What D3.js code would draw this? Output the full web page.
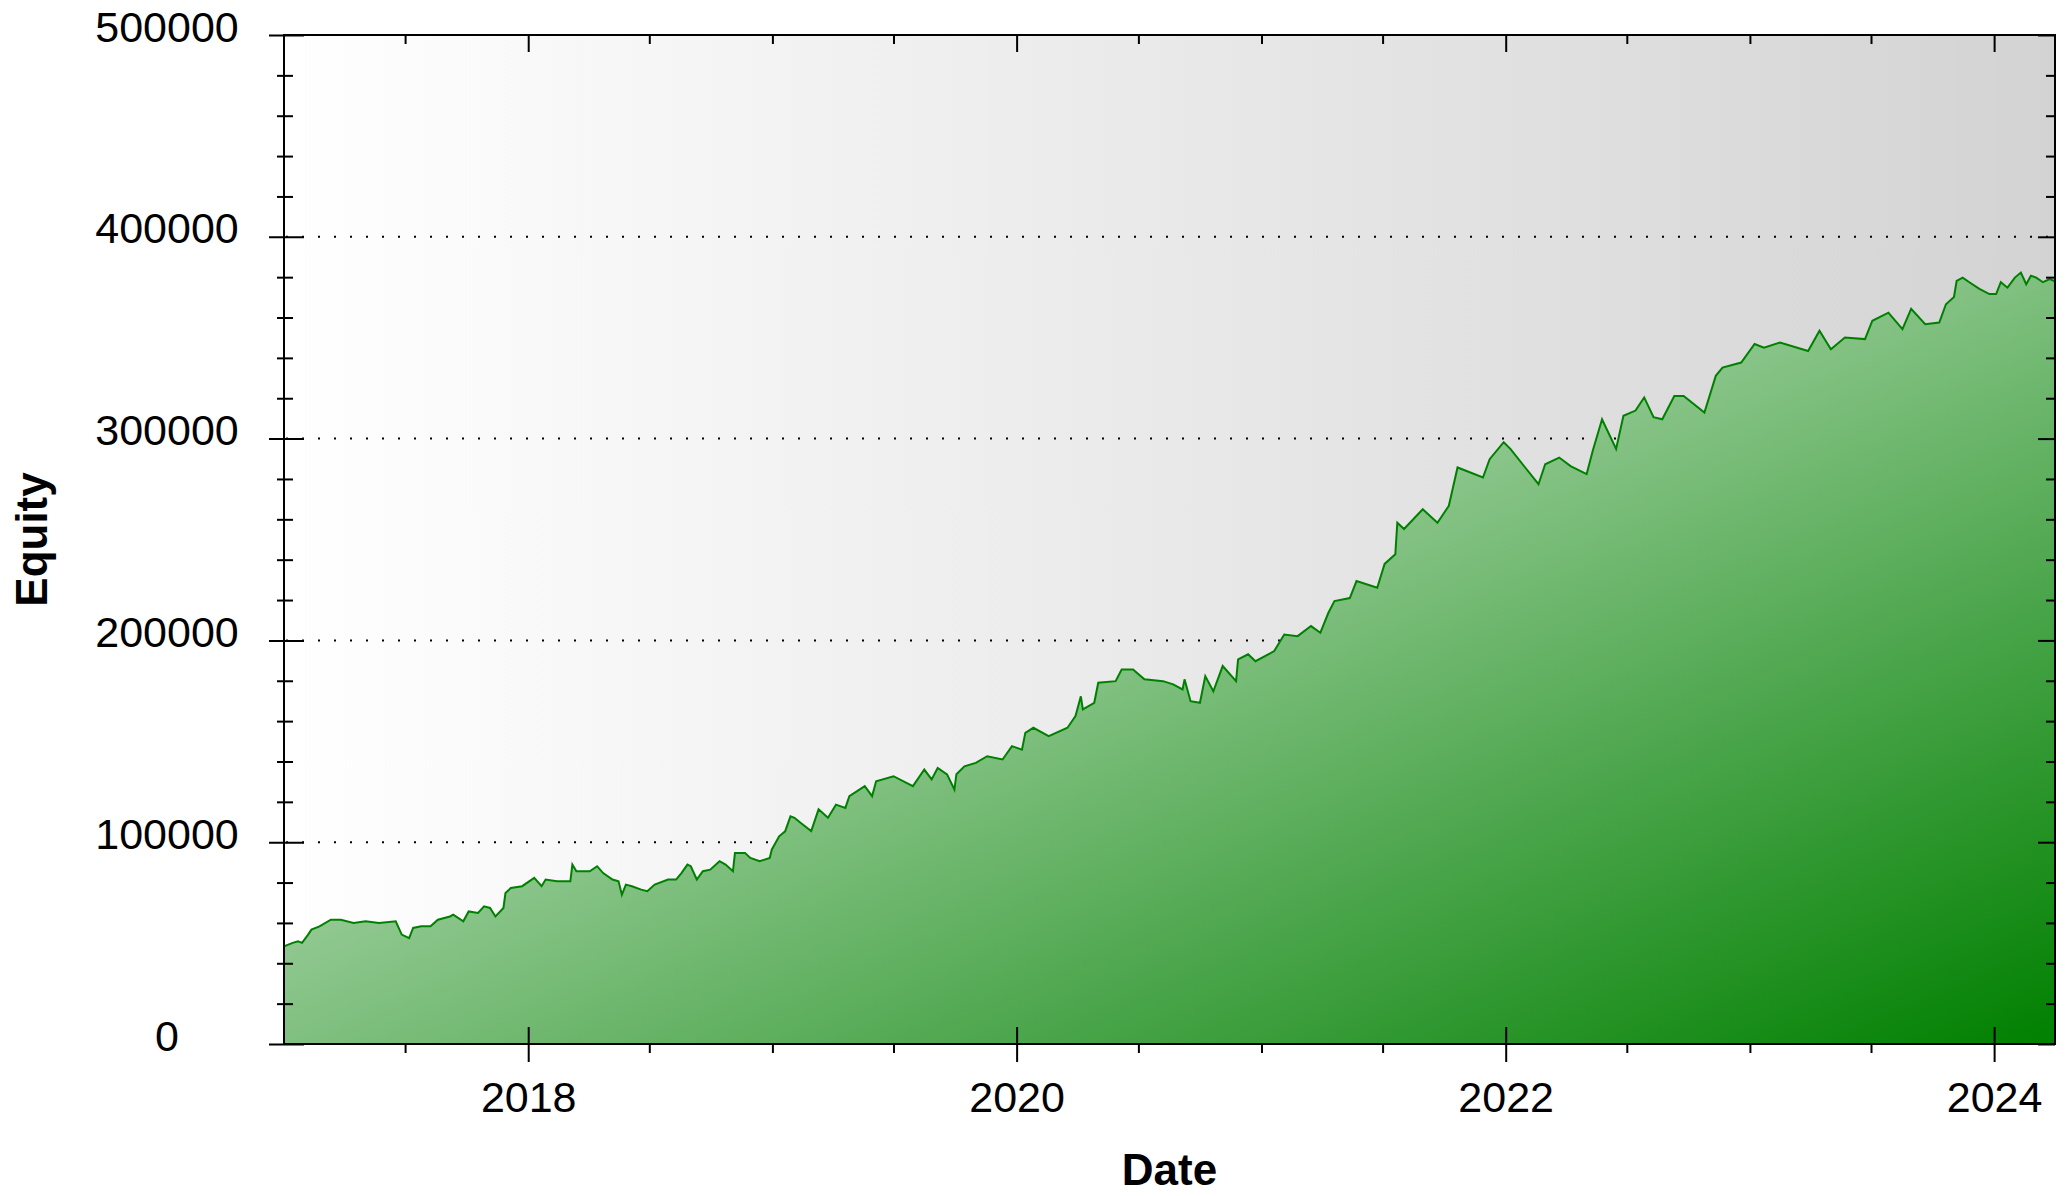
<!DOCTYPE html>
<html>
<head>
<meta charset="utf-8">
<script src="https://cdn.jsdelivr.net/npm/d3@7"></script>
<style>
    body { margin: 0; background: #fff; }
    text { font-family: "Liberation Sans", Arial, sans-serif; fill: #000; }
</style>
</head>
<body>
<div id="equity_chart"></div>
<script>
var dates = [
    "2017-01-01","2017-01-14","2017-01-22","2017-01-28","2017-02-06","2017-02-11","2017-02-23","2017-03-12","2017-03-27","2017-04-15",
    "2017-05-03","2017-05-23","2017-06-17","2017-06-26","2017-07-07","2017-07-13","2017-07-25","2017-08-08","2017-08-19","2017-09-06",
    "2017-09-11","2017-09-26","2017-10-04","2017-10-18","2017-10-27","2017-11-05","2017-11-13","2017-11-25","2017-11-28","2017-12-06",
    "2017-12-23","2018-01-10","2018-01-21","2018-01-27","2018-02-13","2018-03-05","2018-03-08","2018-03-14","2018-04-03","2018-04-14",
    "2018-04-23","2018-05-07","2018-05-16","2018-05-21","2018-05-27","2018-06-05","2018-06-19","2018-06-28","2018-07-09","2018-07-29",
    "2018-08-10","2018-08-18","2018-08-27","2018-09-01","2018-09-10","2018-09-19","2018-09-30","2018-10-14","2018-10-23","2018-11-03",
    "2018-11-06","2018-11-21","2018-11-29","2018-12-13","2018-12-28","2018-12-31","2019-01-11","2019-01-20","2019-01-28","2019-02-03",
    "2019-02-12","2019-02-28","2019-03-11","2019-03-25","2019-04-06","2019-04-20","2019-04-26","2019-05-19","2019-05-30","2019-06-05",
    "2019-07-01","2019-07-30","2019-08-16","2019-08-27","2019-09-05","2019-09-19","2019-09-30","2019-10-03","2019-10-15","2019-11-01",
    "2019-11-18","2019-12-11","2019-12-25","2020-01-09","2020-01-14","2020-01-26","2020-02-18","2020-03-17","2020-03-29","2020-04-06",
    "2020-04-09","2020-04-26","2020-05-02","2020-05-28","2020-06-06","2020-06-23","2020-07-10","2020-08-07","2020-08-22","2020-09-05",
    "2020-09-08","2020-09-17","2020-10-01","2020-10-09","2020-10-21","2020-11-04","2020-11-24","2020-11-27","2020-12-12","2020-12-23",
    "2021-01-20","2021-02-04","2021-02-24","2021-03-16","2021-03-30","2021-04-11","2021-04-20","2021-05-13","2021-05-23","2021-06-23",
    "2021-07-04","2021-07-20","2021-07-23","2021-08-02","2021-08-30","2021-09-21","2021-10-08","2021-10-21","2021-11-28","2021-12-08",
    "2021-12-29","2022-01-08","2022-02-19","2022-03-01","2022-03-22","2022-04-08","2022-05-02","2022-05-11","2022-05-25","2022-06-15",
    "2022-06-26","2022-07-14","2022-07-27","2022-08-10","2022-08-23","2022-09-10","2022-09-24","2022-10-25","2022-11-11","2022-11-21",
    "2022-12-19","2023-01-08","2023-01-22","2023-02-15","2023-03-29","2023-04-15","2023-05-02","2023-05-23","2023-06-22","2023-07-03",
    "2023-07-27","2023-08-17","2023-08-30","2023-09-20","2023-10-11","2023-10-21","2023-11-02","2023-11-06","2023-11-15","2023-11-25",
    "2023-12-10","2023-12-25","2024-01-04","2024-01-11","2024-01-21","2024-02-01","2024-02-10","2024-02-18","2024-02-25","2024-03-04",
    "2024-03-14","2024-03-24","2024-03-31"
];

var equity = [
    48400,50100,50900,50100,54200,56700,58300,61600,61600,60000,
    60800,60000,60800,54200,52500,57500,58300,58300,61600,63200,
    64100,60800,65700,64900,68200,67400,63200,67400,74800,77300,
    78200,82300,78200,81500,80600,80600,88900,85600,85600,88100,
    84700,81500,80600,74000,79000,78200,76500,75700,79000,81500,
    81500,84700,88900,88100,81500,85600,86400,90600,88900,85600,
    94700,94700,92200,90600,92200,96300,102900,105400,112800,112100,
    109600,105500,116300,112100,118600,117000,122800,127800,122800,130200,
    132700,127800,136000,131100,136800,133600,126100,133700,137600,139300,
    142600,141000,147600,145900,154200,156700,152600,156700,162500,172300,
    165800,169100,179000,179800,185600,185600,180700,179800,178200,175700,
    180700,169900,169100,182300,174800,187300,179800,190600,193100,189700,
    194700,202900,202100,207100,203800,213700,219500,221000,229400,226100,
    237900,242700,258300,255200,265000,258300,266700,285700,280700,289800,
    298200,294900,277400,287300,290600,286400,282400,293900,309600,294900,
    311300,313900,320400,310600,309600,321100,321100,312900,331100,335200,
    337700,346900,345100,347600,343400,353400,344300,350100,349300,358400,
    362400,354200,364300,356700,357500,366600,370200,378100,379800,377500,
    374200,371600,371600,377500,374800,379800,382300,376500,380700,379800,
    377500,379000,378100
];

var yTicks = [0, 100000, 200000, 300000, 400000, 500000];
var yGridTicks = [100000, 200000, 300000, 400000];
var xTickYears = ['2018', '2020', '2022', '2024'];
var xDomain = ['2017-01-01', '2024-04-01'];

var width = 2072;
var height = 1196;
var margin = {top: 35, right: 17, bottom: 152, left: 284};
var plotW = width - margin.left - margin.right;
var plotH = height - margin.top - margin.bottom;

var parseDate = d3.timeParse('%Y-%m-%d');
var series = dates.map((d, i) => ({date: parseDate(d), value: equity[i]}));

var x = d3.scaleTime()
    .domain(xDomain.map(parseDate))
    .range([0, plotW]);

var y = d3.scaleLinear()
    .domain([0, 500000])
    .range([plotH, 0]);

var svg = d3.select('#equity_chart')
    .append('svg')
    .attr('width', width)
    .attr('height', height);

var defs = svg.append('defs');

var bgGrad = defs.append('linearGradient')
    .attr('id', 'bgGrad')
    .attr('x1', 0).attr('y1', 0).attr('x2', 1).attr('y2', 0);
bgGrad.append('stop').attr('offset', 0).attr('stop-color', '#ffffff');
bgGrad.append('stop').attr('offset', 1).attr('stop-color', '#d3d3d3');

var areaGrad = defs.append('linearGradient')
    .attr('id', 'areaGrad')
    .attr('x1', 0).attr('y1', 0).attr('x2', 1).attr('y2', 1);
areaGrad.append('stop').attr('offset', 0).attr('stop-color', '#ffffff');
areaGrad.append('stop').attr('offset', 1).attr('stop-color', '#008000');

defs.append('clipPath')
    .attr('id', 'plotClip')
    .append('rect')
    .attr('width', plotW)
    .attr('height', plotH);

var g = svg.append('g')
    .attr('transform', `translate(${margin.left}, ${margin.top})`);

// chart background
g.append('rect')
    .attr('width', plotW)
    .attr('height', plotH)
    .attr('fill', 'url(#bgGrad)');

// dotted grid
g.selectAll('.grid')
    .data(yGridTicks)
    .enter()
    .append('line')
    .attr('class', 'grid')
    .attr('x1', 0)
    .attr('x2', plotW)
    .attr('y1', (d) => y(d))
    .attr('y2', (d) => y(d))
    .attr('stroke', '#000')
    .attr('stroke-width', 2)
    .attr('stroke-dasharray', '2,14')
    .attr('stroke-dashoffset', -18);

var area = d3.area()
    .x((d) => x(d.date))
    .y0(plotH)
    .y1((d) => y(d.value));

var line = d3.line()
    .x((d) => x(d.date))
    .y((d) => y(d.value));

var curve = g.append('g').attr('clip-path', 'url(#plotClip)');

curve.append('path')
    .datum(series)
    .attr('d', area)
    .attr('fill', 'url(#areaGrad)');

curve.append('path')
    .datum(series)
    .attr('d', line)
    .attr('fill', 'none')
    .attr('stroke', '#008000')
    .attr('stroke-width', 2);

// frame
g.append('rect')
    .attr('width', plotW)
    .attr('height', plotH)
    .attr('fill', 'none')
    .attr('stroke', '#000')
    .attr('stroke-width', 2);

var yMinor = d3.range(0, 500001, 20000).filter((d) => d % 100000 != 0);
var xMajor = xTickYears.map((d) => parseDate(d + '-01-01'));
var xMinor = d3.timeMonth.every(6).range(x.domain()[0], x.domain()[1])
    .filter((d) => d > x.domain()[0] && !(d.getMonth() == 0 && d.getFullYear() % 2 == 0));

function styleAxis(sel) {
    sel.select('.domain').remove();
    sel.selectAll('line').attr('stroke', '#000').attr('stroke-width', 2);
}

// left axis, labels centred like the original
g.append('g')
    .call(d3.axisLeft(y).tickValues(yTicks).tickFormat(d3.format('d')).tickSize(15))
    .call(styleAxis)
    .call((a) => a.selectAll('line').attr('x1', 20))
    .selectAll('text')
    .attr('x', -117)
    .attr('dy', 6)
    .attr('text-anchor', 'middle')
    .style('font-size', '43px')
    .style('font-family', '"Liberation Sans", Arial, sans-serif');

g.append('g')
    .call(d3.axisLeft(y).tickValues(yMinor).tickFormat('').tickSize(7))
    .call(styleAxis)
    .selectAll('line').attr('x1', 9);

// right axis (ticks inside)
g.append('g')
    .attr('transform', `translate(${plotW}, 0)`)
    .call(d3.axisRight(y).tickValues(yTicks).tickFormat('').tickSize(-17))
    .call(styleAxis);

g.append('g')
    .attr('transform', `translate(${plotW}, 0)`)
    .call(d3.axisRight(y).tickValues(yMinor).tickFormat('').tickSize(-9))
    .call(styleAxis);

// bottom axis
g.append('g')
    .attr('transform', `translate(0, ${plotH})`)
    .call(d3.axisBottom(x).tickValues(xMajor).tickFormat(d3.timeFormat('%Y')).tickSize(18))
    .call(styleAxis)
    .call((a) => a.selectAll('line').attr('y1', -17))
    .selectAll('text')
    .attr('y', 68)
    .attr('dy', 0)
    .style('font-size', '43px')
    .style('font-family', '"Liberation Sans", Arial, sans-serif');

g.append('g')
    .attr('transform', `translate(0, ${plotH})`)
    .call(d3.axisBottom(x).tickValues(xMinor).tickFormat('').tickSize(9))
    .call(styleAxis);

// top axis (ticks inside)
g.append('g')
    .call(d3.axisTop(x).tickValues(xMajor).tickFormat('').tickSize(-17))
    .call(styleAxis);

g.append('g')
    .call(d3.axisTop(x).tickValues(xMinor).tickFormat('').tickSize(-9))
    .call(styleAxis);

// axis titles
svg.append('text')
    .attr('transform', `translate(47, ${margin.top + plotH / 2}) rotate(-90)`)
    .attr('text-anchor', 'middle')
    .style('font-size', '44px')
    .style('font-weight', 'bold')
    .text('Equity');

svg.append('text')
    .attr('x', margin.left + plotW / 2)
    .attr('y', 1185)
    .attr('text-anchor', 'middle')
    .style('font-size', '44px')
    .style('font-weight', 'bold')
    .text('Date');
</script>
</body>
</html>
